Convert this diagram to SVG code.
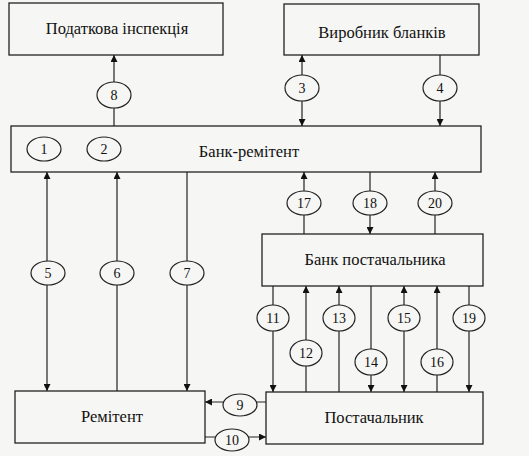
<svg xmlns="http://www.w3.org/2000/svg" width="529" height="456" viewBox="0 0 529 456">
<defs>
<marker id="ah" viewBox="0 0 10 10" refX="10" refY="5" markerWidth="8" markerHeight="7" markerUnits="userSpaceOnUse" orient="auto-start-reverse">
<path d="M0,0 L10,5 L0,10 z" fill="#111"/>
</marker>
<style>
.box{fill:none;stroke:#222;stroke-width:1.3}
.lbl{font-family:"Liberation Serif","DejaVu Serif",serif;font-size:16.5px;fill:#111;text-anchor:middle}
.num{font-family:"Liberation Serif","DejaVu Serif",serif;font-size:14px;fill:#111;text-anchor:middle}
.el{fill:#f6f6f4;stroke:#222;stroke-width:1.2}
.ln{stroke:#222;stroke-width:1.2;fill:none}
.end{marker-end:url(#ah)}
.start{marker-start:url(#ah)}
</style>
</defs>
<rect width="529" height="456" fill="#f6f6f4"/>

<g id="connectors">
<line class="ln end" x1="114" y1="126" x2="114" y2="55"/>
<line class="ln start end" x1="302" y1="55" x2="302" y2="126"/>
<line class="ln end" x1="440" y1="55" x2="440" y2="126"/>
<line class="ln start end" x1="47" y1="172" x2="47" y2="391"/>
<line class="ln end" x1="117" y1="391" x2="117" y2="172"/>
<line class="ln end" x1="187" y1="172" x2="187" y2="391"/>
<line class="ln end" x1="304" y1="234" x2="304" y2="172"/>
<line class="ln end" x1="370" y1="172" x2="370" y2="234"/>
<line class="ln end" x1="435" y1="234" x2="435" y2="172"/>
<line class="ln end" x1="273" y1="286" x2="273" y2="392"/>
<line class="ln end" x1="306" y1="392" x2="306" y2="286"/>
<line class="ln end" x1="339" y1="392" x2="339" y2="286"/>
<line class="ln end" x1="371" y1="286" x2="371" y2="392"/>
<line class="ln start end" x1="404" y1="286" x2="404" y2="392"/>
<line class="ln end" x1="437" y1="392" x2="437" y2="286"/>
<line class="ln end" x1="469" y1="286" x2="469" y2="392"/>
<line class="ln end" x1="266" y1="402" x2="205" y2="402"/>
<line class="ln end" x1="205" y1="437" x2="266" y2="437"/>

<ellipse class="el" cx="114" cy="95" rx="17" ry="13"/><text class="num" x="114" y="100">8</text>
<ellipse class="el" cx="302" cy="88" rx="17" ry="13"/><text class="num" x="302" y="93">3</text>
<ellipse class="el" cx="440" cy="88" rx="17" ry="13"/><text class="num" x="440" y="93">4</text>
<ellipse class="el" cx="48" cy="273" rx="17" ry="12"/><text class="num" x="48" y="278">5</text>
<ellipse class="el" cx="117" cy="273" rx="17" ry="12"/><text class="num" x="117" y="278">6</text>
<ellipse class="el" cx="187" cy="273" rx="17" ry="12"/><text class="num" x="187" y="278">7</text>
<ellipse class="el" cx="304" cy="203" rx="17" ry="12"/><text class="num" x="304" y="208">17</text>
<ellipse class="el" cx="370" cy="203" rx="17" ry="12"/><text class="num" x="370" y="208">18</text>
<ellipse class="el" cx="435" cy="203" rx="17" ry="12"/><text class="num" x="435" y="208">20</text>
<ellipse class="el" cx="273" cy="318" rx="16" ry="13"/><text class="num" x="273" y="323">11</text>
<ellipse class="el" cx="306" cy="353" rx="16" ry="13"/><text class="num" x="306" y="358">12</text>
<ellipse class="el" cx="339" cy="318" rx="16" ry="13"/><text class="num" x="339" y="323">13</text>
<ellipse class="el" cx="371" cy="362" rx="16" ry="13"/><text class="num" x="371" y="367">14</text>
<ellipse class="el" cx="404" cy="318" rx="16" ry="13"/><text class="num" x="404" y="323">15</text>
<ellipse class="el" cx="437" cy="362" rx="16" ry="13"/><text class="num" x="437" y="367">16</text>
<ellipse class="el" cx="469" cy="318" rx="16" ry="13"/><text class="num" x="469" y="323">19</text>
<ellipse class="el" cx="240" cy="405" rx="17" ry="11"/><text class="num" x="240" y="410">9</text>
<ellipse class="el" cx="232" cy="440" rx="17" ry="11"/><text class="num" x="232" y="445">10</text>
</g>

<g id="podatkova">
<rect class="box" x="9" y="3" width="214" height="52"/>
<text class="lbl" x="117" y="34">Податкова інспекція</text>
</g>
<g id="vyrobnyk">
<rect class="box" x="284" y="4" width="195" height="51"/>
<text class="lbl" x="382" y="38">Виробник бланків</text>
</g>
<g id="bank-remitent">
<rect class="box" x="11" y="126" width="470" height="46"/>
<ellipse class="el" cx="44" cy="149" rx="17" ry="12"/><text class="num" x="44" y="154">1</text>
<ellipse class="el" cx="104" cy="149" rx="17" ry="12"/><text class="num" x="104" y="154">2</text>
<text class="lbl" x="249" y="157">Банк-ремітент</text>
</g>
<g id="bank-postachalnyka">
<rect class="box" x="262" y="234" width="221" height="52"/>
<text class="lbl" x="375" y="265">Банк постачальника</text>
</g>
<g id="remitent">
<rect class="box" x="15" y="391" width="190" height="52"/>
<text class="lbl" x="112" y="422">Ремітент</text>
</g>
<g id="postachalnyk">
<rect class="box" x="266" y="392" width="217" height="52"/>
<text class="lbl" x="374" y="423">Постачальник</text>
</g>
</svg>
